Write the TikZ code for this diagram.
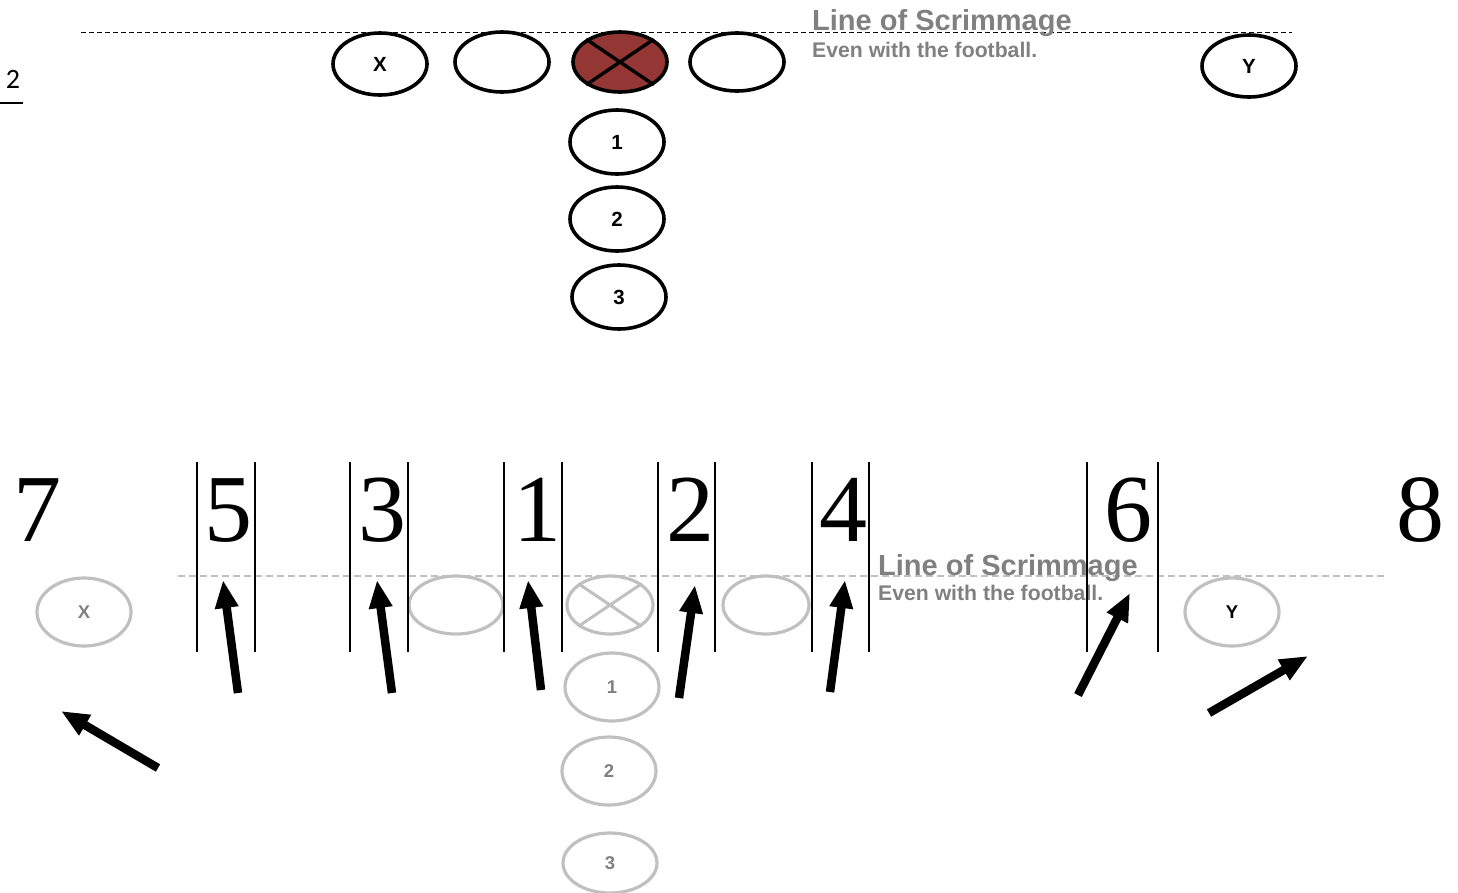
\documentclass[tikz,border=0pt]{standalone}
\usepackage{fontspec}
\setmainfont{Liberation Serif}
\setsansfont{Liberation Sans}[BoldFont={Liberation Sans Bold}]
\newfontfamily\calibri{Carlito}
\usetikzlibrary{shapes.geometric,arrows.meta}
\definecolor{ballred}{HTML}{943634}
\definecolor{ghost}{HTML}{C0C0C0}
\definecolor{labelgray}{HTML}{808080}
\tikzset{
  player/.style={ellipse, draw=black, line width=3.6pt, minimum width=94pt, minimum height=60pt,
    inner sep=0pt, font=\sffamily\bfseries\fontsize{20.5}{20.5}\selectfont},
  ghostplayer/.style={ellipse, draw=ghost, line width=3.2pt, minimum width=94pt, minimum height=68pt,
    inner sep=0pt, text=labelgray, font=\sffamily\bfseries\fontsize{18.5}{18.5}\selectfont},
  scrimtitle/.style={anchor=base west, inner sep=0pt, text=labelgray,
    font=\sffamily\bfseries\fontsize{29}{29}\selectfont},
  scrimsub/.style={anchor=base west, inner sep=0pt, text=labelgray,
    font=\sffamily\bfseries\fontsize{21.2}{21.2}\selectfont},
  holenum/.style={anchor=base, inner sep=0pt, font=\fontsize{96}{96}\selectfont},
  gapline/.style={line width=1.8pt, black},
  runarrow/.style={line width=8.5pt, -{Triangle[length=28pt,width=22pt]}},
}
\begin{document}
\begin{tikzpicture}[x=1pt,y=-1pt]
\useasboundingbox (0,0) rectangle (1458,892);

% ---------- upper formation ----------
\coordinate (losA) at (81,32);
\coordinate (losB) at (1292,32);
\draw[black, line width=1pt, dash pattern=on 5pt off 3pt] (losA) -- (losB);

\node[anchor=base, inner sep=0pt, font=\calibri\fontsize{28}{28}\selectfont] (pg) at (13,88) {2};
\coordinate (ulA) at (0,103);
\coordinate (ulB) at (23,103);
\draw[line width=1.5pt] (ulA) -- (ulB);

\node[player, minimum height=62pt] (tX) at (380,64) {X};
\node[player] (tL) at (502,62) {};
\node[player, fill=ballred] (tC) at (620,62) {};
\draw[line width=3.4pt] (tC.146) -- (tC.-34) (tC.34) -- (tC.214);
\node[player, minimum height=58pt] (tR) at (737,62) {};
\node[player, minimum height=62pt] (tY) at (1249,66) {Y};
\node[player, minimum height=64pt] (t1) at (617,142) {1};
\node[player, minimum height=64pt] (t2) at (617,219) {2};
\node[player, minimum height=64pt] (t3) at (619,297) {3};

\node[scrimtitle] (ts) at (812,30) {Line of Scrimmage};
\node[scrimsub] (tsub) at (812,57) {Even with the football.};

% ---------- lower formation with hole numbers ----------
\coordinate (glosA) at (178,576);
\coordinate (glosB) at (1388,576);
\draw[ghost, line width=1.2pt, dash pattern=on 7pt off 4pt] (glosA) -- (glosB);

\node[ghostplayer] (gX) at (84,612) {X};
\node[ghostplayer, minimum height=58pt] (gL) at (456,605) {};
\node[ghostplayer, minimum width=86pt, minimum height=58pt] (gC) at (610,605) {};
\draw[ghost, line width=3pt] (gC.146) -- (gC.-34) (gC.34) -- (gC.214);
\node[ghostplayer, minimum width=86pt, minimum height=58pt] (gR) at (766,605) {};
\node[ghostplayer, text=black] (gY) at (1232,612) {Y};
\node[ghostplayer] (g1) at (612,687) {1};
\node[ghostplayer] (g2) at (609,771) {2};
\node[ghostplayer, minimum height=60pt] (g3) at (610,863) {3};

\node[scrimtitle] (bs) at (878,575) {Line of Scrimmage};
\node[scrimsub] (bsub) at (878,600) {Even with the football.};

% hole numbers
\node[holenum] (n7) at (37,541) {7};
\node[holenum] (n5) at (228,541) {5};
\node[holenum] (n3) at (382,541) {3};
\node[holenum] (n1) at (537,541) {1};
\node[holenum] (n2) at (690,541) {2};
\node[holenum] (n4) at (843,541) {4};
\node[holenum] (n6) at (1128,541) {6};
\node[holenum] (n8) at (1420,541) {8};

% gap boundaries
\foreach \gx in {197,255,350,408,504,562,658,715,812,869,1087,1158}{
  \coordinate (gt\gx) at (\gx,462);
  \coordinate (gb\gx) at (\gx,652);
  \draw[gapline] (gt\gx) -- (gb\gx);
}

% blocking / running arrows
\coordinate (a5t) at (238,693); \coordinate (a5h) at (223,580);
\coordinate (a3t) at (392,693); \coordinate (a3h) at (377,580);
\coordinate (a1t) at (541,690); \coordinate (a1h) at (528,580);
\coordinate (a2t) at (679,698); \coordinate (a2h) at (695,585);
\coordinate (a4t) at (830,692); \coordinate (a4h) at (845,580);
\coordinate (a6t) at (1078,695); \coordinate (a6h) at (1130,593);
\coordinate (ayt) at (1209,713); \coordinate (ayh) at (1308,656);
\coordinate (axt) at (158,768); \coordinate (axh) at (61,711);
\draw[runarrow] (a5t) -- (a5h);
\draw[runarrow] (a3t) -- (a3h);
\draw[runarrow] (a1t) -- (a1h);
\draw[runarrow] (a2t) -- (a2h);
\draw[runarrow] (a4t) -- (a4h);
\draw[runarrow] (a6t) -- (a6h);
\draw[runarrow] (ayt) -- (ayh);
\draw[runarrow] (axt) -- (axh);
\end{tikzpicture}
\end{document}
